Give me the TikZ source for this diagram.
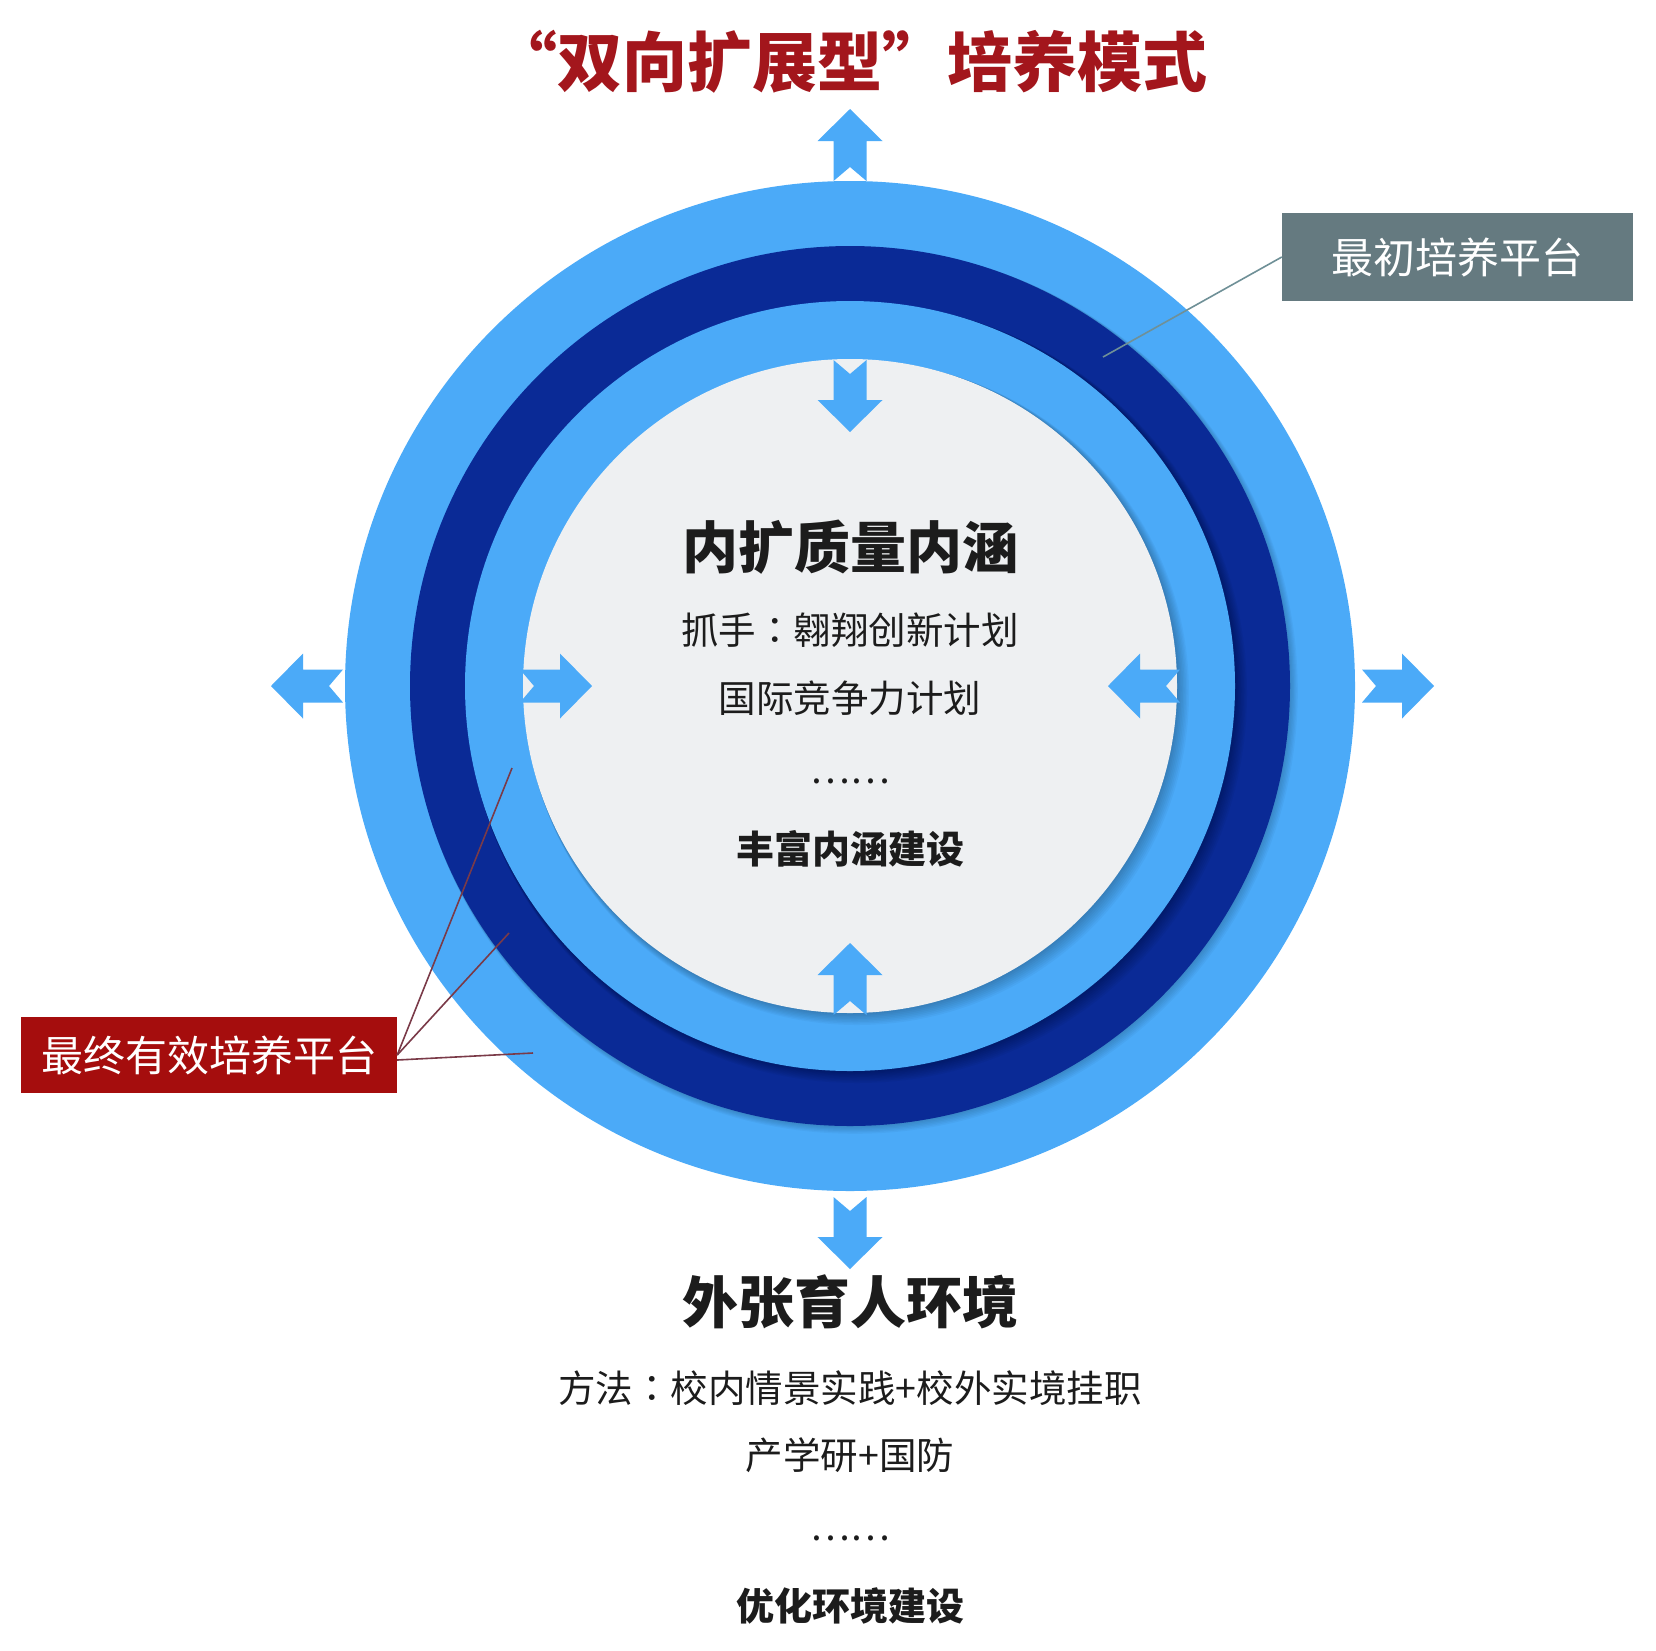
\documentclass[tikz,border=0pt]{standalone}
\usepackage{fontspec}
\newfontfamily\cjk{Noto Sans CJK SC}
\newfontfamily\cjktc{Noto Sans CJK TC}
\usetikzlibrary{calc}
\definecolor{lightb}{HTML}{4BAAF8}
\definecolor{darkb}{HTML}{0A2A96}
\definecolor{greyin}{HTML}{EEF0F2}
\definecolor{titlered}{HTML}{A3161C}
\definecolor{boxred}{HTML}{A50D0D}
\definecolor{boxgrey}{HTML}{657A80}
\definecolor{linegrey}{HTML}{6F9097}
\definecolor{linered}{HTML}{7A3A48}
\definecolor{txt}{HTML}{1C1C1C}
\tikzset{
  barrow/.pic={\fill[lightb] (0,-16.5) -- (40,-16.5) -- (40,-32.5) -- (72,0) -- (40,32.5) -- (40,16.5) -- (0,16.5) -- (14,0) -- cycle;},
  titletxt/.style={inner sep=0pt, text=titlered, font=\cjk\bfseries\fontsize{65}{70}\selectfont},
  headtxt/.style={inner sep=0pt, text=txt, font=\cjk\bfseries\fontsize{56}{62}\selectfont},
  bodytxt/.style={inner sep=0pt, text=txt, font=\cjk\fontsize{37.5}{42}\selectfont},
  subtxt/.style={inner sep=0pt, text=txt, font=\cjk\bfseries\fontsize{38}{42}\selectfont},
  labelbox/.style={inner sep=0pt, text=white, font=\cjk\fontsize{42}{46}\selectfont, align=center},
  callgrey/.style={draw=linegrey, line width=1.6pt},
  callred/.style={draw=linered, line width=1.6pt}
}
\newcommand{\fwq}[1]{{\addfontfeature{CharacterWidth=Full}#1}}
\newcommand{\ccolon}{{\cjktc ：}}
\begin{document}
\begin{tikzpicture}[x=1pt,y=-1pt]
\useasboundingbox[fill=white] (0,0) rectangle (1656,1650);
\coordinate (c) at (850,686);
% rings
\fill[lightb] (c) circle[radius=505pt];
\foreach \i in {1,...,6} \fill[black,opacity=0.03] ({850+\i*0.8},{686+\i*0.8}) circle[radius={440pt+\i*0.5pt}];
\fill[darkb] (c) circle[radius=440pt];
\foreach \i in {1,...,8} \fill[black,opacity=0.035] ({850+\i*0.9},{686+\i*0.9}) circle[radius={385pt+\i*0.6pt}];
\fill[lightb] (c) circle[radius=385pt];
\foreach \i in {1,...,8} \fill[black,opacity=0.03] ({850+\i*0.9},{686+\i*0.9}) circle[radius={327pt+\i*0.6pt}];
\fill[greyin] (c) circle[radius=327pt];
% outward arrows
\pic[rotate=90] at (850,181) {barrow};
\pic[rotate=-90] at (850,1197) {barrow};
\pic[rotate=180] at (343,686) {barrow};
\pic at (1362,686) {barrow};
% inward arrows
\pic[rotate=-90] at (850,360) {barrow};
\pic[rotate=90] at (850,1015) {barrow};
\pic at (520,686) {barrow};
\pic[rotate=180] at (1180,686) {barrow};
% title
\node[titletxt] (title) at (850,62) {\fwq{“}双向扩展型\fwq{”}培养模式};
% inner texts
\node[headtxt] (inhead) at (850,547) {内扩质量内涵};
\node[bodytxt] (in1) at (850,630) {抓手\ccolon 翱翔创新计划};
\node[bodytxt] (in2) at (850,698) {国际竞争力计划};
\node[bodytxt] (indots) at (850,781) {……};
\node[subtxt] (in3) at (850,849) {丰富内涵建设};
% outer texts
\node[headtxt] (outhead) at (850,1302) {外张育人环境};
\node[bodytxt] (out1) at (850,1388) {方法\ccolon 校内情景实践+校外实境挂职};
\node[bodytxt] (out2) at (850,1455) {产学研+国防};
\node[bodytxt] (outdots) at (850,1538) {……};
\node[subtxt] (out3) at (850,1606) {优化环境建设};
% labels
\node[labelbox, fill=boxgrey, minimum width=351pt, minimum height=88pt] (initial) at (1457.5,257) {最初培养平台};
\node[labelbox, fill=boxred, minimum width=376pt, minimum height=76pt] (final) at (209,1055) {最终有效培养平台};
\coordinate (pInit) at (1103,357);
\coordinate (pF1) at (512,768);
\coordinate (pF2) at (509,933);
\coordinate (pF3) at (533,1053);
\draw[callgrey] (initial.west) -- (pInit);
\draw[callred] (final.east) -- (pF1);
\draw[callred] (final.east) -- (pF2);
\draw[callred] ([yshift=-5pt]final.east) -- (pF3);
\end{tikzpicture}
\end{document}
